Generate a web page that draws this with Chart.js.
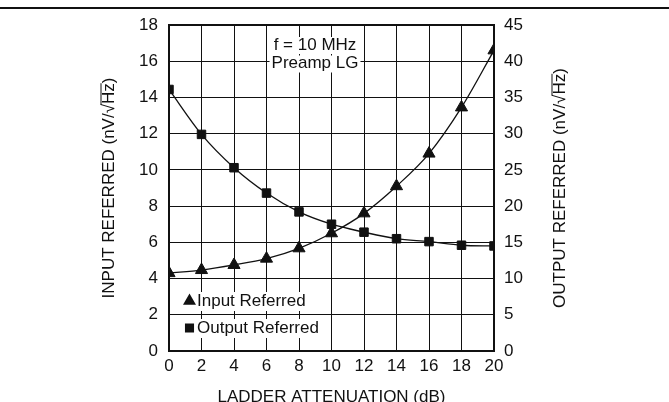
<!DOCTYPE html>
<html>
<head>
<meta charset="utf-8">
<script src="https://cdn.jsdelivr.net/npm/chart.js@4"></script>
<style>
  body { margin: 0; background: #fff; }
  canvas { display: block; }
</style>
</head>
<body>
<canvas id="noiseChart" width="669" height="402"></canvas>
<script>
// attenuation steps (dB)
const attenuation = [0, 2, 4, 6, 8, 10, 12, 14, 16, 18, 20];
// input referred noise, left axis (nV/rtHz)
const inputReferred = [4.3, 4.47, 4.75, 5.1, 5.67, 6.5, 7.6, 9.1, 10.9, 13.45, 16.6];
// output referred noise, right axis (nV/rtHz)
const outputReferred = [36.1, 29.9, 25.3, 21.8, 19.2, 17.5, 16.4, 15.5, 15.1, 14.6, 14.5];
const noteLines = ['f = 10 MHz', 'Preamp LG'];
const seriesNames = ['Input Referred', 'Output Referred'];
const yTitles = ['INPUT REFERRED (nV/√Hz)', 'OUTPUT REFERRED (nV/√Hz)'];

const FONT = '"Liberation Sans", Arial, sans-serif';
const SIZE = 17;
const INK = '#111';

const toPoints = (ys) => attenuation.map((x, i) => ({ x: x, y: ys[i] }));

// both y titles read bottom-to-top, with a bar over "Hz"
function drawYTitle(ctx, text, cx, cy) {
  ctx.save();
  ctx.translate(cx, cy);
  ctx.rotate(-Math.PI / 2);
  ctx.font = SIZE + 'px ' + FONT;
  ctx.textAlign = 'left';
  ctx.textBaseline = 'middle';
  const w = ctx.measureText(text).width;
  const x0 = -w / 2;
  ctx.fillStyle = INK;
  ctx.fillText(text, x0, 0);
  const rootAt = text.indexOf('√');
  const a = ctx.measureText(text.slice(0, rootAt + 1)).width;
  const b = ctx.measureText(text.slice(0, text.indexOf(')'))).width;
  ctx.fillRect(x0 + a - 1, -8.5, b - a + 1, 1);
  ctx.restore();
}

// legend, note box, frame, y titles and the rule at the top
const extras = {
  id: 'extras',
  beforeDatasetsDraw(chart) {
    const { ctx, chartArea: a } = chart;
    ctx.save();
    ctx.strokeStyle = INK;
    ctx.lineWidth = 2;
    ctx.strokeRect(a.left, a.top, a.right - a.left, a.bottom - a.top);

    ctx.font = SIZE + 'px ' + FONT;
    ctx.textBaseline = 'middle';

    // note
    ctx.textAlign = 'center';
    noteLines.forEach((t, i) => {
      const w = ctx.measureText(t).width;
      const cx = a.left + 146;
      const cy = a.top + 20 + i * 18.5;
      ctx.fillStyle = '#fff';
      ctx.fillRect(cx - w / 2 - 2, cy - 8, w + 4, 17);
      ctx.fillStyle = INK;
      ctx.fillText(t, cx, cy);
    });

    // legend
    ctx.textAlign = 'left';
    chart.data.datasets.forEach((ds, i) => {
      const y = a.bottom - 50 + i * 27;
      const tx = a.left + 28;
      const w = ctx.measureText(ds.label).width;
      ctx.fillStyle = '#fff';
      ctx.fillRect(a.left + 14, y - 9, w + 16, 19);
      ctx.fillStyle = INK;
      ctx.strokeStyle = INK;
      Chart.helpers.drawPoint(ctx, { pointStyle: ds.pointStyle, rotation: 0, radius: i === 0 ? 5.5 : 5, borderWidth: 1 }, a.left + 20.5, y);
      ctx.fill();
      ctx.fillStyle = INK;
      ctx.fillText(ds.label, tx, y + 0.5);
    });
    ctx.restore();

    const midY = (a.top + a.bottom) / 2;
    drawYTitle(ctx, yTitles[0], 109, midY);
    drawYTitle(ctx, yTitles[1], 560, midY);
  },
  afterDraw(chart) {
    const { ctx, width } = chart;
    ctx.save();
    ctx.fillStyle = INK;
    ctx.fillRect(0, 7, width, 2);
    ctx.restore();
  }
};

const tickFont = { family: FONT, size: SIZE };

new Chart(document.getElementById('noiseChart').getContext('2d'), {
  type: 'line',
  data: {
    datasets: [{
      label: seriesNames[0],
      data: toPoints(inputReferred),
      yAxisID: 'y',
      borderColor: INK,
      backgroundColor: INK,
      borderWidth: 1.3,
      pointStyle: 'triangle',
      pointRadius: 7,
      pointBorderWidth: 1,
      cubicInterpolationMode: 'monotone',
    }, {
      label: seriesNames[1],
      data: toPoints(outputReferred),
      yAxisID: 'y1',
      borderColor: INK,
      backgroundColor: INK,
      borderWidth: 1.3,
      pointStyle: 'rect',
      pointRadius: 6,
      pointBorderWidth: 1,
      cubicInterpolationMode: 'monotone',
    }],
  },
  options: {
    responsive: false,
    animation: false,
    layout: { padding: { top: 25, left: 0, right: 0, bottom: 0 } },
    plugins: {
      legend: { display: false },
      tooltip: { enabled: false },
    },
    scales: {
      x: {
        type: 'linear',
        min: 0,
        max: 20,
        afterFit: (s) => { s.height = 51; },
        ticks: { stepSize: 2, padding: 5, color: INK, font: tickFont },
        grid: { color: INK, lineWidth: 1, drawTicks: false },
        border: { color: INK, width: 2 },
        title: {
          display: true,
          text: 'LADDER ATTENUATION (dB)',
          color: INK,
          font: tickFont,
          padding: { top: 0, bottom: -6 },
        },
      },
      y: {
        position: 'left',
        min: 0,
        max: 18,
        afterFit: (s) => { s.width = 169; },
        ticks: { stepSize: 2, padding: 11, color: INK, font: tickFont },
        grid: { color: INK, lineWidth: 1, drawTicks: false },
        border: { color: INK, width: 2 },
      },
      y1: {
        position: 'right',
        min: 0,
        max: 45,
        afterFit: (s) => { s.width = 175; },
        ticks: { stepSize: 5, padding: 10, color: INK, font: tickFont },
        grid: { drawOnChartArea: false, drawTicks: false },
        border: { color: INK, width: 2 },
      },
    },
  },
  plugins: [extras],
});
</script>
</body>
</html>
